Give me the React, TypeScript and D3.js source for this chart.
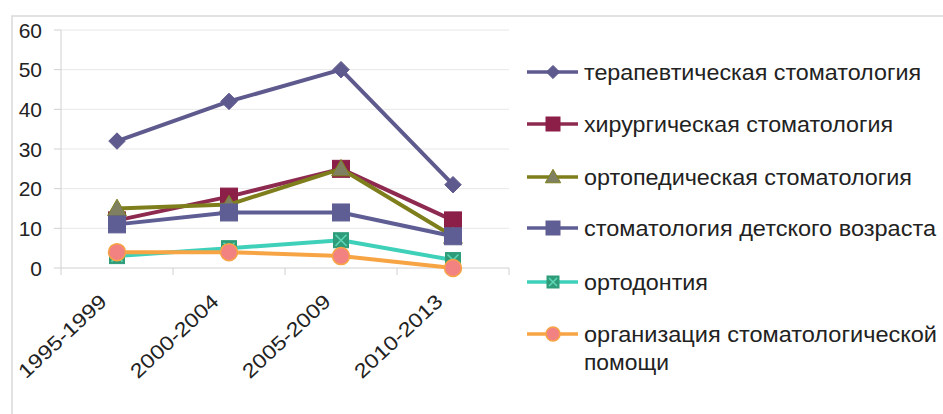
import React from "react";
import * as d3 from "d3";

const categories = ["1995-1999", "2000-2004", "2005-2009", "2010-2013"];
const yTicks = [0, 10, 20, 30, 40, 50, 60];

const seriesNames = [
  "терапевтическая стоматология",
  "хирургическая стоматология",
  "ортопедическая стоматология",
  "стоматология детского возраста",
  "ортодонтия",
  "организация стоматологической помощи",
];
const terapevt = [32, 42, 50, 21];
const khirurg = [12, 18, 25, 12];
const ortoped = [15, 16, 25, 8];
const detsk = [11, 14, 14, 8];
const ortodont = [3, 5, 7, 2];
const organiz = [4, 4, 3, 0];
const seriesValues = [terapevt, khirurg, ortoped, detsk, ortodont, organiz];

const lineColors = ["#5E5A8E", "#8E2A50", "#7E7E1C", "#5F5E94", "#3FD0BA", "#F7A444"];
const markerFill = ["#5E5A8E", "#8B1F48", "#7F7F62", "#5F5E94", "#2E9C78", "#F28282"];
const markerStroke = ["#5E5A8E", "#8B1F48", "#7F7F1C", "#5F5E94", "#2E9C78", "#F7A444"];
const markerType = ["diamond", "square", "triangle", "square", "squareX", "circle"];

const legendLines = [
  ["терапевтическая стоматология"],
  ["хирургическая стоматология"],
  ["ортопедическая стоматология"],
  ["стоматология детского возраста"],
  ["ортодонтия"],
  ["организация стоматологической", "помощи"],
];
const legendWidths = [[337], [309], [328], [352], [124], [353, 85]];

const FONT = "'Liberation Sans', Arial, sans-serif";

function Marker({ type, x, y, fill, stroke, size }: any) {
  if (type === "diamond") {
    const s = size * 0.55;
    return <path d={`M${x},${y - s}L${x + s},${y}L${x},${y + s}L${x - s},${y}Z`} fill={fill} stroke={stroke} strokeWidth={1} />;
  }
  if (type === "square") {
    const s = size / 2;
    return <rect x={x - s} y={y - s} width={size} height={size} fill={fill} stroke={stroke} strokeWidth={1} />;
  }
  if (type === "squareX") {
    const s = size / 2 - 1;
    return (
      <g>
        <rect x={x - s} y={y - s} width={s * 2} height={s * 2} fill={fill} stroke={stroke} strokeWidth={1} />
        <path d={`M${x - s + 2},${y - s + 2}L${x + s - 2},${y + s - 2}M${x + s - 2},${y - s + 2}L${x - s + 2},${y + s - 2}`} stroke="#5FD8B8" strokeWidth={1.5} />
      </g>
    );
  }
  if (type === "triangle") {
    const s = size * 0.55;
    return <path d={`M${x},${y - s}L${x + s},${y + s * 0.75}L${x - s},${y + s * 0.75}Z`} fill={fill} stroke={stroke} strokeWidth={1} />;
  }
  return <circle cx={x} cy={y} r={size / 2} fill={fill} stroke={stroke} strokeWidth={1.5} />;
}

export default function App() {
  const W = 943;
  const H = 414;
  const left = 61;
  const right = 509;
  const top = 30;
  const bottom = 268;

  const x = d3.scaleBand<string>().domain(categories).range([left, right]);
  const y = d3.scaleLinear().domain([0, 60]).range([bottom, top]);
  const line = d3
    .line<number>()
    .x((_, i) => (x(categories[i]) as number) + x.bandwidth() / 2)
    .y((d) => y(d));

  const legendY = [72, 124, 177, 228, 282, 334];

  return (
    <svg width={W} height={H} style={{ position: "absolute", left: 0, top: 0, background: "#fff" }}>
      <rect x={12} y={16} width={W} height={H} fill="#fff" stroke="#d9d9d9" strokeWidth={1.5} />
      {yTicks.map((t) => (
        <g key={t}>
          {t > 0 && <line x1={left} x2={right} y1={y(t)} y2={y(t)} stroke="#e8e8e8" strokeWidth={1} />}
          <line x1={left - 7} x2={left} y1={y(t)} y2={y(t)} stroke="#d0d0d0" strokeWidth={1} />
          <text x={42} y={y(t)} dy="0.36em" textAnchor="end" fontFamily={FONT} fontSize={21} fill="#222">
            {t}
          </text>
        </g>
      ))}
      <line x1={left} x2={left} y1={top} y2={bottom} stroke="#d0d0d0" strokeWidth={1} />
      <line x1={left} x2={right} y1={bottom} y2={bottom} stroke="#d0d0d0" strokeWidth={1} />
      {categories.map((c, i) => (
        <line key={"t" + i} x1={x(c)} x2={x(c)} y1={bottom} y2={bottom + 7} stroke="#d0d0d0" />
      ))}
      <line x1={right} x2={right} y1={bottom} y2={bottom + 7} stroke="#d0d0d0" />
      {categories.map((c) => {
        const cx = (x(c) as number) + x.bandwidth() / 2;
        return (
          <text
            key={c}
            transform={`translate(${cx - 9},${bottom + 35}) rotate(-43)`}
            textAnchor="end"
            fontFamily={FONT}
            fontSize={20}
            fill="#222"
            textLength={112}
            lengthAdjust="spacingAndGlyphs"
          >
            {c}
          </text>
        );
      })}
      {seriesValues.map((vals, si) => (
        <g key={si}>
          <path d={line(vals) || ""} fill="none" stroke={lineColors[si]} strokeWidth={4} strokeLinejoin="round" />
          {vals.map((v, i) => (
            <Marker
              key={i}
              type={markerType[si]}
              x={(x(categories[i]) as number) + x.bandwidth() / 2}
              y={y(v)}
              fill={markerFill[si]}
              stroke={markerStroke[si]}
              size={si === 0 ? 15 : 17}
            />
          ))}
        </g>
      ))}
      {seriesNames.map((name, si) => (
        <g key={name}>
          <line x1={527} x2={578} y1={legendY[si]} y2={legendY[si]} stroke={lineColors[si]} strokeWidth={3.5} />
          <Marker type={markerType[si]} x={553} y={legendY[si]} fill={markerFill[si]} stroke={markerStroke[si]} size={si === 0 ? 12 : 14} />
          {legendLines[si].map((txt, li) => (
            <text
              key={li}
              x={584}
              y={legendY[si] + li * 28}
              dy="0.36em"
              fontFamily={FONT}
              fontSize={22}
              fill="#222"
              textLength={legendWidths[si][li]}
              lengthAdjust="spacingAndGlyphs"
            >
              {txt}
            </text>
          ))}
        </g>
      ))}
    </svg>
  );
}
